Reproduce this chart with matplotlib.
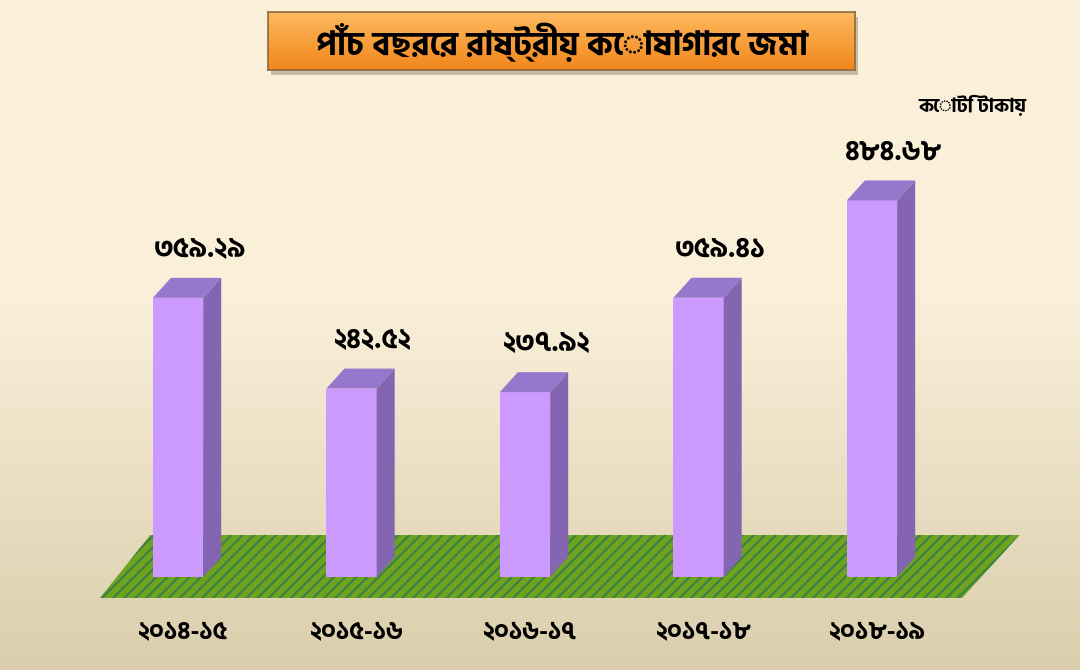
import numpy as np
import matplotlib
matplotlib.use("Agg")
import matplotlib.pyplot as plt
from matplotlib.patches import Polygon

# ডেটা
years = ["২০১৪-১৫", "২০১৫-১৬", "২০১৬-১৭", "২০১৭-১৮", "২০১৮-১৯"]
values = [359.29, 242.52, 237.92, 359.41, 484.68]
value_labels = ["৩৫৯.২৯", "২৪২.৫২", "২৩৭.৯২", "৩৫৯.৪১", "৪৮৪.৬৮"]
title = "পাঁচ বছরের রাষ্ট্রীয় কোষাগারে জমা"
unit = "কোটি টাকায়"

plt.rcParams["font.family"] = ["Hind Siliguri", "DejaVu Sans"]

fig = plt.figure(figsize=(10.8, 6.7), dpi=100)

# background gradient
bg = fig.add_axes([0, 0, 1, 1])
top_c = np.array([250, 240, 218]) / 255
bot_c = np.array([218, 206, 172]) / 255
t = np.clip((np.linspace(0, 1, 200) - 0.45) / 0.55, 0, 1)[:, None]
grad = top_c * (1 - t) + bot_c * t
bg.imshow(grad[:, None, :], aspect="auto", extent=[0, 1, 0, 1])
bg.set_xlim(0, 1)
bg.set_ylim(0, 1)
bg.set_axis_off()

# title box shadow
bx0, by0, bw, bh = 268 / 1080, 1 - 70 / 670, (855 - 268) / 1080, 58 / 670
bg.add_patch(Polygon([(bx0 + 0.003, by0 - 0.007), (bx0 + bw + 0.003, by0 - 0.007),
                      (bx0 + bw + 0.003, by0 + bh - 0.007), (bx0 + 0.003, by0 + bh - 0.007)],
                     closed=True, facecolor="#A89878", alpha=0.6, edgecolor="none"))

# main axes: x = category index, y = value
ax = fig.add_axes([0, 0, 1, 1])
ax.set_xlim(-1.026, 5.199)
ax.set_ylim(-119.7, 742.6)
ax.set_axis_off()
ax.patch.set_alpha(0)

x = np.arange(len(values))
w = 0.29
dx, dy = 0.104, 25.7  # depth offsets

# floor
plt.rcParams["hatch.linewidth"] = 1.6
floor = Polygon([(-0.45, -27), (4.52, -27), (4.85, 54), (-0.16, 54)],
                closed=True, facecolor="#6FA21D", edgecolor="#3B8248",
                hatch="///", linewidth=0, zorder=1)
ax.add_patch(floor)

# bars (front face) + 3D top and side faces
ax.bar(x, values, width=w, color="#CC99FF", zorder=3)
for xi, v in zip(x, values):
    l, r = xi - w / 2, xi + w / 2
    ax.add_patch(Polygon([(l, v), (r, v), (r + dx, v + dy), (l + dx, v + dy)],
                         closed=True, facecolor="#9677CC", edgecolor="none", zorder=3))
    ax.add_patch(Polygon([(r, 0), (r + dx, dy), (r + dx, v + dy), (r, v)],
                         closed=True, facecolor="#8465B2", edgecolor="none", zorder=3))

# value labels
for xi, v, lab in zip(x, values, value_labels):
    ax.text(xi + 0.125, v + dy + 36, lab, ha="center", va="center",
            fontsize=20, fontweight="bold", color="black", zorder=4)

# year labels
for xi, yr in zip(x, years):
    ax.text(xi + 0.03, -71, yr, ha="center", va="center",
            fontsize=18, fontweight="bold", color="black")

# title box with gradient
box_ax = fig.add_axes([bx0, by0, bw, bh])
og = np.linspace(0, 1, 100)[:, None]
oc = np.array([253, 185, 95]) / 255 * (1 - og) + np.array([242, 135, 28]) / 255 * og
box_ax.imshow(oc[:, None, :], aspect="auto", extent=[0, 1, 0, 1])
box_ax.set_xticks([])
box_ax.set_yticks([])
for s in box_ax.spines.values():
    s.set_color("#8A6A40")
    s.set_linewidth(1.2)
box_ax.text(0.5, 0.47, title, ha="center", va="center", fontsize=24,
            fontweight="bold", color="black", transform=box_ax.transAxes)

# unit label
fig.text(972 / 1080, 1 - 106 / 670, unit, ha="center", va="center",
         fontsize=14, fontweight="bold", color="black")

fig.savefig("out.png", dpi=100)
